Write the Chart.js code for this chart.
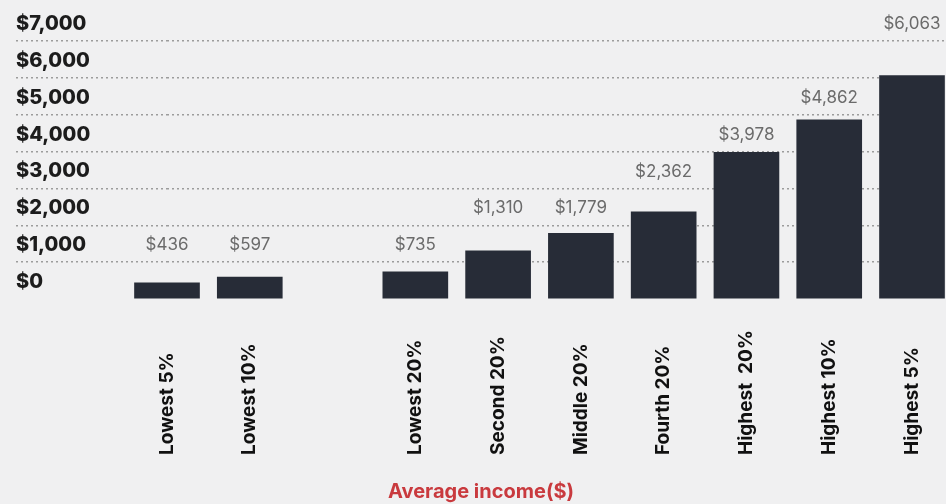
<!DOCTYPE html>
<html>
<head>
<meta charset="utf-8">
<script src="https://cdn.jsdelivr.net/npm/chart.js@4.4.1/dist/chart.umd.min.js"></script>
<style>
  html, body { margin: 0; padding: 0; background: #f0f0f1; }
  #wrap { width: 946px; height: 504px; }
</style>
</head>
<body>
<div id="wrap"><canvas id="incomeChart"></canvas></div>
<script>
// income groups, blank slot keeps the gap between the percentile and quintile bars
const groups = ['Lowest 5%', 'Lowest 10%', '', 'Lowest 20%', 'Second 20%', 'Middle 20%',
                'Fourth 20%', 'Highest  20%', 'Highest 10%', 'Highest 5%'];
const income = [436, 597, null, 735, 1310, 1779, 2362, 3978, 4862, 6063];
const yTicks = [0, 1000, 2000, 3000, 4000, 5000, 6000, 7000];

const FONT = 'Inter, "Open Sans", sans-serif';
const GRID = '#9c9c9c';

function dollars(v) {
    return '$' + v.toLocaleString('en-US');
}

function setTicks(scale) {
    scale.ticks = yTicks.map(v => ({ value: v }));
}

function gridColor(ctx) {
    return ctx.tick && ctx.tick.value === 0 ? 'transparent' : GRID;
}

// value text sits in the row just above the bar's top gridline band
const valueLabels = {
    id: 'valueLabels',
    afterDatasetsDraw(chart) {
        const ctx = chart.ctx;
        const y = chart.scales.y;
        const step = yTicks[1] - yTicks[0];
        ctx.save();
        ctx.font = '17px ' + FONT;
        ctx.fillStyle = '#6b6b6b';
        ctx.textAlign = 'center';
        ctx.textBaseline = 'middle';
        chart.getDatasetMeta(0).data.forEach((bar, i) => {
            const v = income[i];
            if (v == null) return;
            const band = Math.ceil(v / step) * step;
            ctx.fillText(dollars(v), bar.x, y.getPixelForValue(band) - 17);
        });
        ctx.restore();
    }
};

// vertical category names, read bottom-to-top and aligned at their start
const groupLabels = {
    id: 'groupLabels',
    afterDraw(chart) {
        const ctx = chart.ctx;
        const x = chart.scales.x;
        ctx.save();
        ctx.font = 'bold 19px ' + FONT;
        ctx.fillStyle = '#111111';
        ctx.textAlign = 'left';
        ctx.textBaseline = 'middle';
        groups.forEach((g, i) => {
            if (!g) return;
            ctx.save();
            ctx.translate(x.getPixelForValue(i), x.top + 156);
            ctx.rotate(-Math.PI / 2);
            ctx.fillText(g, 0, 0);
            ctx.restore();
        });
        ctx.restore();
    }
};

new Chart(document.getElementById('incomeChart'), {
    type: 'bar',
    data: {
        labels: groups,
        datasets: [{
            data: income,
            backgroundColor: '#272c37',
            barThickness: 65,
            clip: false
        }]
    },
    options: {
        responsive: true,
        maintainAspectRatio: false,
        animation: false,
        layout: {
            padding: { left: 16, right: 0, top: 41, bottom: 0 }
        },
        plugins: {
            legend: { display: false },
            tooltip: { enabled: false },
            title: {
                display: true,
                position: 'bottom',
                text: 'Average income($)',
                color: '#c93a3e',
                font: { family: FONT, size: 20, weight: 'bold' },
                padding: { top: 4, bottom: 0 }
            }
        },
        scales: {
            x: {
                offset: false,
                grid: { display: false },
                border: { display: false },
                ticks: { display: false },
                afterFit: s => { s.height = 177; }
            },
            y: {
                min: 0,
                max: 7000,
                afterBuildTicks: setTicks,
                afterFit: s => { s.width = 151; },
                border: { display: false, dash: [2, 3] },
                grid: {
                    color: gridColor,
                    lineWidth: 1.5,
                    tickLength: 151,
                    tickBorderDash: [2, 3]
                },
                ticks: {
                    crossAlign: 'far',
                    labelOffset: -17,
                    padding: 0,
                    color: '#1c1c1c',
                    font: { family: FONT, size: 20, weight: '800' },
                    callback: v => dollars(v)
                }
            },
            y2: {
                position: 'right',
                min: 0,
                max: 7000,
                afterBuildTicks: setTicks,
                afterFit: s => { s.width = 34; },
                border: { display: false },
                grid: {
                    drawOnChartArea: false,
                    color: gridColor,
                    lineWidth: 1.5,
                    tickLength: 34,
                    tickBorderDash: [2, 3]
                },
                ticks: { display: false }
            }
        }
    },
    plugins: [valueLabels, groupLabels]
});
</script>
</body>
</html>
